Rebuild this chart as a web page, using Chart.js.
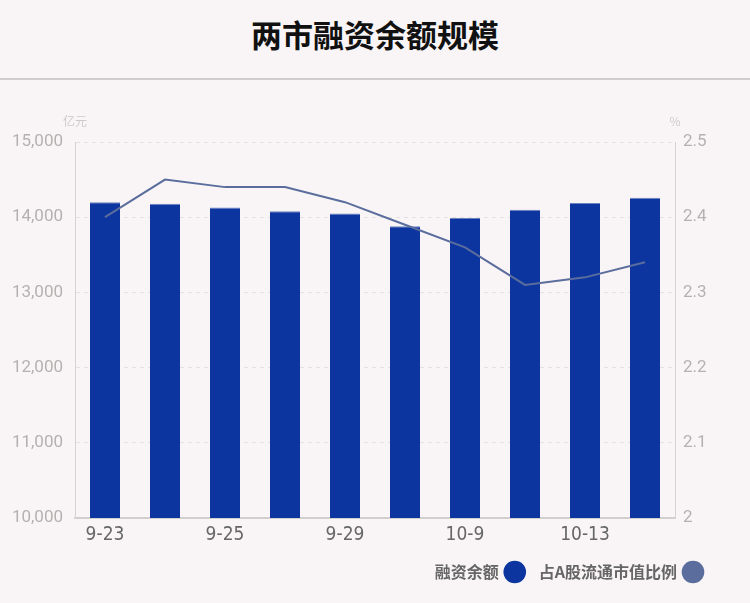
<!DOCTYPE html>
<html>
<head>
<meta charset="utf-8">
<script src="https://cdn.jsdelivr.net/npm/chart.js@4/dist/chart.umd.min.js"></script>
<style>
  html, body { margin: 0; padding: 0; background: #f9f5f6; }
  #titulo {
    height: 80px; line-height: 78px; box-sizing: border-box;
    text-align: center;
    font: bold 31px "Noto Sans CJK SC"; color: #111;
    border-bottom: 2px solid #cfcccc;
  }
  #titulo span { position: relative; top: 11px; }
  #wrap { position: relative; width: 750px; height: 521px; }
</style>
</head>
<body>
<div id="titulo"><span>两市融资余额规模</span></div>
<div id="wrap"><canvas id="grafico"></canvas></div>
<script>
// Datos
const fechas = ['9-23', '9-24', '9-25', '9-28', '9-29', '9-30', '10-9', '10-12', '10-13', '10-14'];
const saldoFinanciacion = [14200, 14180, 14130, 14080, 14050, 13880, 13990, 14100, 14190, 14260];
const porcentajeMercado = [2.40, 2.45, 2.44, 2.44, 2.42, 2.39, 2.36, 2.31, 2.32, 2.34];

// Escribe las unidades encima de cada eje y separa la leyenda del borde derecho
const unidades = {
    id: 'unidades',
    beforeDraw(chart) {
        const leyenda = chart.legend;
        leyenda.right = chart.width - 33;
        leyenda.width = leyenda.right - leyenda.left;
    },
    afterDraw(chart) {
        const ctx = chart.ctx;
        const area = chart.chartArea;
        ctx.save();
        ctx.font = '12px "Noto Sans CJK SC"';
        ctx.fillStyle = '#cfcaca';
        ctx.textAlign = 'center';
        ctx.textBaseline = 'middle';
        ctx.fillText('亿元', area.left, area.top - 21);
        ctx.fillText('%', area.right, area.top - 21);
        ctx.restore();
    }
};

const ctx = document.getElementById('grafico').getContext('2d');
new Chart(ctx, {
    data: {
        labels: fechas,
        datasets: [
            {
                type: 'line',
                label: '占A股流通市值比例',
                data: porcentajeMercado,
                yAxisID: 'y2',
                borderColor: '#5a6d9c',
                backgroundColor: '#5a6d9c',
                borderWidth: 2,
                pointRadius: 0,
                tension: 0,
                order: 0
            },
            {
                type: 'bar',
                label: '融资余额',
                data: saldoFinanciacion,
                yAxisID: 'y',
                backgroundColor: '#0d35a0',
                borderColor: '#6c82c0',
                borderWidth: { top: 1, left: 0, right: 0, bottom: 0 },
                borderSkipped: false,
                categoryPercentage: 1,
                barPercentage: 0.5,
                order: 1
            }
        ]
    },
    options: {
        responsive: true,
        maintainAspectRatio: false,
        animation: false,
        layout: { padding: { top: 62, left: 0, right: 0, bottom: 11 } },
        plugins: {
            legend: {
                position: 'bottom',
                align: 'start',
                rtl: true,
                reverse: true,
                labels: {
                    usePointStyle: true,
                    pointStyle: 'circle',
                    boxWidth: 22,
                    boxHeight: 18,
                    padding: 16,
                    color: '#666',
                    font: { family: '"Noto Sans CJK SC"', size: 16, weight: 'bold' },
                    generateLabels(chart) {
                        return chart.data.datasets.map((ds, i) => ({
                            text: ds.label,
                            fillStyle: ds.type === 'bar' ? '#0d35a0' : '#5a6d9c',
                            strokeStyle: ds.type === 'bar' ? '#0d35a0' : '#5a6d9c',
                            lineWidth: 0,
                            pointStyle: 'circle',
                            datasetIndex: i,
                            fontColor: '#666'
                        })).reverse();
                    }
                }
            },
            tooltip: { enabled: false }
        },
        scales: {
            x: {
                grid: { display: false, drawTicks: false },
                border: { color: '#d2cfcf', width: 2 },
                ticks: {
                    autoSkip: false,
                    maxRotation: 0,
                    padding: 6,
                    color: '#666',
                    font: { family: '"DejaVu Sans Condensed", Roboto', size: 19 },
                    callback: (v, i) => (i % 2 === 0 ? fechas[i] : '')
                },
                afterFit(scale) { scale.height = 30; }
            },
            y: {
                position: 'left',
                min: 10000,
                max: 15000,
                grid: { color: '#e6e1e1', drawTicks: false },
                border: { color: '#d6d2d2', dash: [4, 4] },
                ticks: {
                    stepSize: 1000,
                    padding: 12,
                    color: '#b5b1b1',
                    font: { family: 'Roboto', size: 17 }
                },
                afterFit(scale) { scale.width = 75; }
            },
            y2: {
                position: 'right',
                min: 2,
                max: 2.5,
                grid: { display: false, drawTicks: false },
                border: { color: '#d6d2d2' },
                ticks: {
                    stepSize: 0.1,
                    padding: 8,
                    color: '#b5b1b1',
                    font: { family: 'Roboto', size: 17 },
                    callback: v => String(+v.toFixed(1))
                },
                afterFit(scale) { scale.width = 75; }
            }
        }
    },
    plugins: [unidades]
});
</script>
</body>
</html>
